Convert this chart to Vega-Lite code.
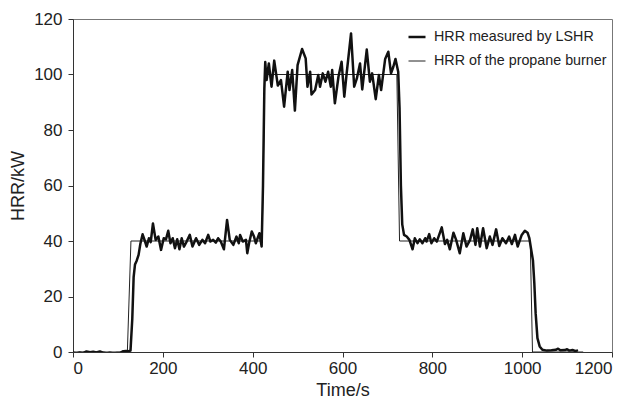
{
  "$schema": "https://vega.github.io/schema/vega-lite/v6.json",
  "width": 539,
  "height": 333,
  "autosize": "none",
  "padding": {"left": 73, "top": 19, "right": 16, "bottom": 47},
  "background": "white",
  "config": {
    "view": {"stroke": "#777", "strokeWidth": 1},
    "font": "Liberation Sans"
  },
  "data": {
    "values": [
      {"series": "HRR of the propane burner", "t": 0, "v": 0},
      {"series": "HRR of the propane burner", "t": 121, "v": 0},
      {"series": "HRR of the propane burner", "t": 129, "v": 40},
      {"series": "HRR of the propane burner", "t": 421, "v": 40},
      {"series": "HRR of the propane burner", "t": 427, "v": 100},
      {"series": "HRR of the propane burner", "t": 721, "v": 100},
      {"series": "HRR of the propane burner", "t": 727, "v": 40},
      {"series": "HRR of the propane burner", "t": 1018, "v": 40},
      {"series": "HRR of the propane burner", "t": 1023, "v": 0},
      {"series": "HRR of the propane burner", "t": 1135, "v": 0},
      {"series": "HRR measured by LSHR", "t": 0, "v": -0.3},
      {"series": "HRR measured by LSHR", "t": 8, "v": -0.5},
      {"series": "HRR measured by LSHR", "t": 15, "v": -0.2},
      {"series": "HRR measured by LSHR", "t": 22, "v": -0.4},
      {"series": "HRR measured by LSHR", "t": 30, "v": 0.2},
      {"series": "HRR measured by LSHR", "t": 38, "v": -0.1},
      {"series": "HRR measured by LSHR", "t": 45, "v": 0.1},
      {"series": "HRR measured by LSHR", "t": 52, "v": -0.2},
      {"series": "HRR measured by LSHR", "t": 60, "v": 0.2},
      {"series": "HRR measured by LSHR", "t": 68, "v": -0.3},
      {"series": "HRR measured by LSHR", "t": 75, "v": -0.5},
      {"series": "HRR measured by LSHR", "t": 82, "v": -0.3},
      {"series": "HRR measured by LSHR", "t": 90, "v": -0.5},
      {"series": "HRR measured by LSHR", "t": 98, "v": -0.4},
      {"series": "HRR measured by LSHR", "t": 105, "v": -0.3},
      {"series": "HRR measured by LSHR", "t": 112, "v": 0.3},
      {"series": "HRR measured by LSHR", "t": 118, "v": 0.4},
      {"series": "HRR measured by LSHR", "t": 124, "v": 0.3},
      {"series": "HRR measured by LSHR", "t": 128, "v": 0.5},
      {"series": "HRR measured by LSHR", "t": 132, "v": 12},
      {"series": "HRR measured by LSHR", "t": 135, "v": 27},
      {"series": "HRR measured by LSHR", "t": 138, "v": 31.5},
      {"series": "HRR measured by LSHR", "t": 142, "v": 33},
      {"series": "HRR measured by LSHR", "t": 146, "v": 35},
      {"series": "HRR measured by LSHR", "t": 150, "v": 39},
      {"series": "HRR measured by LSHR", "t": 155, "v": 42.4},
      {"series": "HRR measured by LSHR", "t": 160, "v": 40},
      {"series": "HRR measured by LSHR", "t": 164, "v": 38},
      {"series": "HRR measured by LSHR", "t": 169, "v": 41},
      {"series": "HRR measured by LSHR", "t": 173, "v": 39.6},
      {"series": "HRR measured by LSHR", "t": 178, "v": 46.3},
      {"series": "HRR measured by LSHR", "t": 184, "v": 40.4},
      {"series": "HRR measured by LSHR", "t": 190, "v": 41.6},
      {"series": "HRR measured by LSHR", "t": 196, "v": 36.8},
      {"series": "HRR measured by LSHR", "t": 202, "v": 41},
      {"series": "HRR measured by LSHR", "t": 207, "v": 40.6},
      {"series": "HRR measured by LSHR", "t": 212, "v": 43.7},
      {"series": "HRR measured by LSHR", "t": 217, "v": 39.2},
      {"series": "HRR measured by LSHR", "t": 222, "v": 41},
      {"series": "HRR measured by LSHR", "t": 227, "v": 37.4},
      {"series": "HRR measured by LSHR", "t": 232, "v": 40.6},
      {"series": "HRR measured by LSHR", "t": 237, "v": 37},
      {"series": "HRR measured by LSHR", "t": 242, "v": 41},
      {"series": "HRR measured by LSHR", "t": 247, "v": 38},
      {"series": "HRR measured by LSHR", "t": 253, "v": 39.8},
      {"series": "HRR measured by LSHR", "t": 260, "v": 42.2},
      {"series": "HRR measured by LSHR", "t": 266, "v": 38},
      {"series": "HRR measured by LSHR", "t": 274, "v": 41},
      {"series": "HRR measured by LSHR", "t": 281, "v": 38.6},
      {"series": "HRR measured by LSHR", "t": 288, "v": 40.4},
      {"series": "HRR measured by LSHR", "t": 294, "v": 39.2},
      {"series": "HRR measured by LSHR", "t": 301, "v": 42.2},
      {"series": "HRR measured by LSHR", "t": 306, "v": 39.8},
      {"series": "HRR measured by LSHR", "t": 312, "v": 40.4},
      {"series": "HRR measured by LSHR", "t": 318, "v": 39.4},
      {"series": "HRR measured by LSHR", "t": 323, "v": 41},
      {"series": "HRR measured by LSHR", "t": 329, "v": 39.8},
      {"series": "HRR measured by LSHR", "t": 336, "v": 37},
      {"series": "HRR measured by LSHR", "t": 343, "v": 47.6},
      {"series": "HRR measured by LSHR", "t": 349, "v": 40.4},
      {"series": "HRR measured by LSHR", "t": 357, "v": 38.6},
      {"series": "HRR measured by LSHR", "t": 364, "v": 41.6},
      {"series": "HRR measured by LSHR", "t": 369, "v": 39.2},
      {"series": "HRR measured by LSHR", "t": 372, "v": 42.2},
      {"series": "HRR measured by LSHR", "t": 378, "v": 39.8},
      {"series": "HRR measured by LSHR", "t": 385, "v": 40.4},
      {"series": "HRR measured by LSHR", "t": 388, "v": 35.6},
      {"series": "HRR measured by LSHR", "t": 392, "v": 39.2},
      {"series": "HRR measured by LSHR", "t": 398, "v": 43.4},
      {"series": "HRR measured by LSHR", "t": 403, "v": 41.6},
      {"series": "HRR measured by LSHR", "t": 407, "v": 39.2},
      {"series": "HRR measured by LSHR", "t": 415, "v": 42.8},
      {"series": "HRR measured by LSHR", "t": 420, "v": 38},
      {"series": "HRR measured by LSHR", "t": 423, "v": 60},
      {"series": "HRR measured by LSHR", "t": 426, "v": 95},
      {"series": "HRR measured by LSHR", "t": 428, "v": 104.5},
      {"series": "HRR measured by LSHR", "t": 431, "v": 98},
      {"series": "HRR measured by LSHR", "t": 436, "v": 104},
      {"series": "HRR measured by LSHR", "t": 442, "v": 95.6},
      {"series": "HRR measured by LSHR", "t": 448, "v": 105},
      {"series": "HRR measured by LSHR", "t": 456, "v": 96},
      {"series": "HRR measured by LSHR", "t": 463, "v": 98},
      {"series": "HRR measured by LSHR", "t": 470, "v": 88.4},
      {"series": "HRR measured by LSHR", "t": 478, "v": 101},
      {"series": "HRR measured by LSHR", "t": 482, "v": 94.4},
      {"series": "HRR measured by LSHR", "t": 488, "v": 101.6},
      {"series": "HRR measured by LSHR", "t": 494, "v": 87},
      {"series": "HRR measured by LSHR", "t": 500, "v": 103.4},
      {"series": "HRR measured by LSHR", "t": 510, "v": 109.2},
      {"series": "HRR measured by LSHR", "t": 518, "v": 105.8},
      {"series": "HRR measured by LSHR", "t": 522, "v": 95.6},
      {"series": "HRR measured by LSHR", "t": 528, "v": 101},
      {"series": "HRR measured by LSHR", "t": 531, "v": 92.8},
      {"series": "HRR measured by LSHR", "t": 539, "v": 94.4},
      {"series": "HRR measured by LSHR", "t": 546, "v": 99.8},
      {"series": "HRR measured by LSHR", "t": 550, "v": 95.6},
      {"series": "HRR measured by LSHR", "t": 556, "v": 100.4},
      {"series": "HRR measured by LSHR", "t": 562, "v": 97.4},
      {"series": "HRR measured by LSHR", "t": 568, "v": 101},
      {"series": "HRR measured by LSHR", "t": 574, "v": 95.6},
      {"series": "HRR measured by LSHR", "t": 577, "v": 101.6},
      {"series": "HRR measured by LSHR", "t": 583, "v": 89.6},
      {"series": "HRR measured by LSHR", "t": 591, "v": 99.2},
      {"series": "HRR measured by LSHR", "t": 598, "v": 104.6},
      {"series": "HRR measured by LSHR", "t": 604, "v": 92},
      {"series": "HRR measured by LSHR", "t": 609, "v": 100},
      {"series": "HRR measured by LSHR", "t": 619, "v": 114.8},
      {"series": "HRR measured by LSHR", "t": 626, "v": 95.6},
      {"series": "HRR measured by LSHR", "t": 632, "v": 98.6},
      {"series": "HRR measured by LSHR", "t": 639, "v": 104},
      {"series": "HRR measured by LSHR", "t": 644, "v": 94.6},
      {"series": "HRR measured by LSHR", "t": 654, "v": 109},
      {"series": "HRR measured by LSHR", "t": 661, "v": 97.4},
      {"series": "HRR measured by LSHR", "t": 666, "v": 100.4},
      {"series": "HRR measured by LSHR", "t": 674, "v": 91.1},
      {"series": "HRR measured by LSHR", "t": 681, "v": 99.8},
      {"series": "HRR measured by LSHR", "t": 686, "v": 94.4},
      {"series": "HRR measured by LSHR", "t": 695, "v": 105.6},
      {"series": "HRR measured by LSHR", "t": 702, "v": 108.2},
      {"series": "HRR measured by LSHR", "t": 708, "v": 100.4},
      {"series": "HRR measured by LSHR", "t": 713, "v": 102.7},
      {"series": "HRR measured by LSHR", "t": 718, "v": 105.6},
      {"series": "HRR measured by LSHR", "t": 724, "v": 101},
      {"series": "HRR measured by LSHR", "t": 727, "v": 88},
      {"series": "HRR measured by LSHR", "t": 730, "v": 60},
      {"series": "HRR measured by LSHR", "t": 733, "v": 46},
      {"series": "HRR measured by LSHR", "t": 737, "v": 42.2},
      {"series": "HRR measured by LSHR", "t": 743, "v": 41.6},
      {"series": "HRR measured by LSHR", "t": 749, "v": 40.4},
      {"series": "HRR measured by LSHR", "t": 756, "v": 37},
      {"series": "HRR measured by LSHR", "t": 761, "v": 41},
      {"series": "HRR measured by LSHR", "t": 767, "v": 39.2},
      {"series": "HRR measured by LSHR", "t": 772, "v": 40.6},
      {"series": "HRR measured by LSHR", "t": 778, "v": 39.2},
      {"series": "HRR measured by LSHR", "t": 784, "v": 41},
      {"series": "HRR measured by LSHR", "t": 787, "v": 39.8},
      {"series": "HRR measured by LSHR", "t": 793, "v": 42.5},
      {"series": "HRR measured by LSHR", "t": 798, "v": 39.2},
      {"series": "HRR measured by LSHR", "t": 804, "v": 41},
      {"series": "HRR measured by LSHR", "t": 810, "v": 39.8},
      {"series": "HRR measured by LSHR", "t": 821, "v": 44.9},
      {"series": "HRR measured by LSHR", "t": 828, "v": 38.9},
      {"series": "HRR measured by LSHR", "t": 833, "v": 40.4},
      {"series": "HRR measured by LSHR", "t": 839, "v": 37},
      {"series": "HRR measured by LSHR", "t": 847, "v": 43},
      {"series": "HRR measured by LSHR", "t": 853, "v": 40.4},
      {"series": "HRR measured by LSHR", "t": 861, "v": 35.6},
      {"series": "HRR measured by LSHR", "t": 869, "v": 42.8},
      {"series": "HRR measured by LSHR", "t": 876, "v": 38},
      {"series": "HRR measured by LSHR", "t": 884, "v": 40.4},
      {"series": "HRR measured by LSHR", "t": 890, "v": 44.2},
      {"series": "HRR measured by LSHR", "t": 896, "v": 38.6},
      {"series": "HRR measured by LSHR", "t": 900, "v": 44.6},
      {"series": "HRR measured by LSHR", "t": 906, "v": 38},
      {"series": "HRR measured by LSHR", "t": 913, "v": 44.6},
      {"series": "HRR measured by LSHR", "t": 921, "v": 37.4},
      {"series": "HRR measured by LSHR", "t": 928, "v": 41.6},
      {"series": "HRR measured by LSHR", "t": 934, "v": 38.6},
      {"series": "HRR measured by LSHR", "t": 942, "v": 44.2},
      {"series": "HRR measured by LSHR", "t": 949, "v": 38.2},
      {"series": "HRR measured by LSHR", "t": 956, "v": 41},
      {"series": "HRR measured by LSHR", "t": 964, "v": 39.2},
      {"series": "HRR measured by LSHR", "t": 971, "v": 41.6},
      {"series": "HRR measured by LSHR", "t": 977, "v": 38.9},
      {"series": "HRR measured by LSHR", "t": 984, "v": 42.2},
      {"series": "HRR measured by LSHR", "t": 990, "v": 38},
      {"series": "HRR measured by LSHR", "t": 999, "v": 42.2},
      {"series": "HRR measured by LSHR", "t": 1006, "v": 43.7},
      {"series": "HRR measured by LSHR", "t": 1012, "v": 43},
      {"series": "HRR measured by LSHR", "t": 1016, "v": 41},
      {"series": "HRR measured by LSHR", "t": 1020, "v": 37},
      {"series": "HRR measured by LSHR", "t": 1024, "v": 33},
      {"series": "HRR measured by LSHR", "t": 1027, "v": 25},
      {"series": "HRR measured by LSHR", "t": 1030, "v": 14},
      {"series": "HRR measured by LSHR", "t": 1034, "v": 5},
      {"series": "HRR measured by LSHR", "t": 1039, "v": 2},
      {"series": "HRR measured by LSHR", "t": 1045, "v": 0.8},
      {"series": "HRR measured by LSHR", "t": 1055, "v": 0.5},
      {"series": "HRR measured by LSHR", "t": 1065, "v": 0.6},
      {"series": "HRR measured by LSHR", "t": 1075, "v": 0.8},
      {"series": "HRR measured by LSHR", "t": 1080, "v": 1.2},
      {"series": "HRR measured by LSHR", "t": 1085, "v": 0.6},
      {"series": "HRR measured by LSHR", "t": 1095, "v": 0.7},
      {"series": "HRR measured by LSHR", "t": 1100, "v": 1},
      {"series": "HRR measured by LSHR", "t": 1105, "v": 0.5},
      {"series": "HRR measured by LSHR", "t": 1112, "v": 0.7},
      {"series": "HRR measured by LSHR", "t": 1118, "v": 0.4},
      {"series": "HRR measured by LSHR", "t": 1122, "v": 0.5}
    ]
  },
  "mark": {"type": "line", "strokeJoin": "round", "strokeCap": "round", "clip": true},
  "encoding": {
    "x": {
      "field": "t", "type": "quantitative",
      "scale": {"domain": [0, 1200], "nice": false},
      "axis": {
        "title": "Time/s", "values": [0, 200, 400, 600, 800, 1000, 1200], "format": "d",
        "grid": false, "domainColor": "#333", "tickColor": "#333", "tickSize": 5,
        "labelFontSize": 17, "labelColor": "#222", "labelPadding": 3,
        "titleFontSize": 18, "titleFontWeight": "normal", "titleColor": "#222", "titlePadding": 5
      }
    },
    "y": {
      "field": "v", "type": "quantitative",
      "scale": {"domain": [0, 120], "nice": false},
      "axis": {
        "title": "HRR/kW", "values": [0, 20, 40, 60, 80, 100, 120], "format": "d",
        "grid": false, "domainColor": "#333", "tickColor": "#333", "tickSize": 5,
        "labelFontSize": 17, "labelColor": "#222", "labelPadding": 6,
        "titleFontSize": 18, "titleFontWeight": "normal", "titleColor": "#222", "titlePadding": 6
      }
    },
    "color": {
      "field": "series", "type": "nominal",
      "scale": {"domain": ["HRR measured by LSHR", "HRR of the propane burner"], "range": ["#111111", "#222222"]},
      "legend": {
        "title": null, "orient": "none", "legendX": 334, "legendY": 8,
        "symbolType": "stroke", "symbolSize": 289, "symbolStrokeColor": "#111",
        "labelFontSize": 14.3, "labelColor": "#222", "rowPadding": 7, "labelOffset": 7, "labelLimit": 0
      }
    },
    "strokeWidth": {
      "field": "series", "type": "nominal",
      "scale": {"domain": ["HRR measured by LSHR", "HRR of the propane burner"], "range": [2.5, 1]},
      "legend": {
        "title": null, "orient": "none", "legendX": 334, "legendY": 8,
        "symbolType": "stroke", "symbolSize": 289,
        "labelFontSize": 14.3, "labelColor": "#222", "rowPadding": 7, "labelOffset": 7, "labelLimit": 0
      }
    }
  }
}
